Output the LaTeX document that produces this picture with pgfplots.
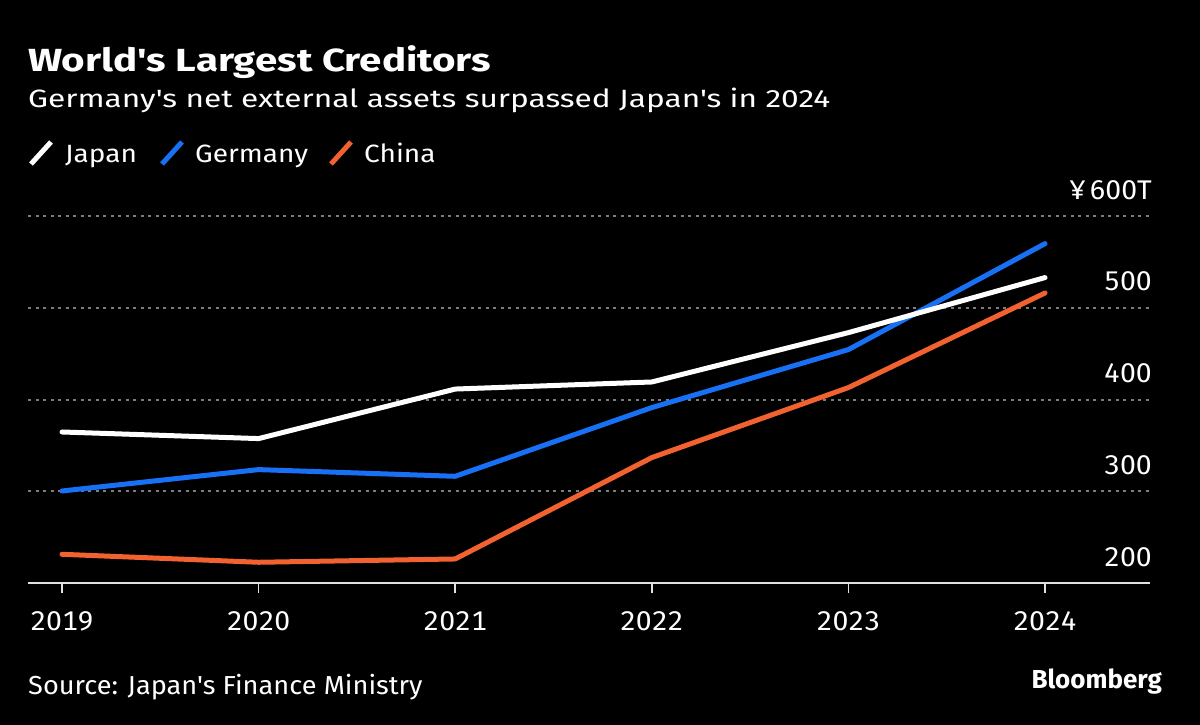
\documentclass[border=0pt]{standalone}
\usepackage{fontspec}
\setmainfont{Fira Sans}[Ligatures=TeXOff, Numbers=Monospaced]
\newfontfamily\titlefont{Fira Sans}[Ligatures=TeXOff, FakeStretch=1.26]
\newfontfamily\subfont{Fira Sans}[Ligatures=TeXOff, FakeStretch=1.265]
\newfontfamily\legfont{Fira Sans}[Ligatures=TeXOff, FakeStretch=1.12]
\newfontfamily\tickfont{Fira Sans}[Ligatures=TeXOff, Numbers=Monospaced, FakeStretch=1.05]
\newfontfamily\srcfont{Fira Sans}[Ligatures=TeXOff, FakeStretch=1.045]
\usepackage{pgfplots}
\pgfplotsset{compat=1.18}
\definecolor{jp}{RGB}{255,255,255}
\definecolor{de}{RGB}{24,112,245}
\definecolor{cn}{RGB}{242,98,48}
\definecolor{gridc}{RGB}{125,125,125}
\definecolor{basec}{RGB}{225,225,225}
\begin{document}
\begin{tikzpicture}
\fill[black] (0,0) rectangle (1200bp,-725bp);
\node[anchor=base west, inner sep=0pt, text=white, font=\titlefont\fontsize{32bp}{36bp}\selectfont\bfseries] at (28bp,-71bp) {World's Largest Creditors};
\node[anchor=base west, inner sep=0pt, text=white, font=\subfont\fontsize{25bp}{28bp}\selectfont] at (28bp,-107bp) {Germany's net external assets surpassed Japan's in 2024};
% legend
\draw[jp, line width=5bp] (31bp,-164bp) -- (51bp,-142bp);
\node[anchor=base west, inner sep=0pt, text=white, font=\legfont\fontsize{25bp}{28bp}\selectfont] at (65bp,-162bp) {Japan};
\draw[de, line width=5bp] (162bp,-164bp) -- (182bp,-142bp);
\node[anchor=base west, inner sep=0pt, text=white, font=\legfont\fontsize{25bp}{28bp}\selectfont] at (195bp,-162bp) {Germany};
\draw[cn, line width=5bp] (331bp,-164bp) -- (351bp,-142bp);
\node[anchor=base west, inner sep=0pt, text=white, font=\legfont\fontsize{25bp}{28bp}\selectfont] at (364bp,-162bp) {China};
\begin{axis}[at={(28bp,-583bp)}, anchor=south west, scale only axis,
  width=1122bp, height=367bp,
  xmin=2018.827, xmax=2024.534, ymin=200, ymax=600,
  axis x line*=bottom, axis y line*=right,
  x axis line style={draw=basec, line width=1.5bp, -},
  y axis line style={draw=none},
  xtick={2019,2020,2021,2022,2023,2024},
  xticklabels={2019,2020,2021,2022,2023,2024},
  ytick={200,300,400,500,600},
  yticklabels={200,300,400,500,{¥\hspace{4bp}600T\hspace{-16bp}}},
  xtick style={draw=basec, line width=1.5bp},
  ytick style={draw=none},
  tick align=outside, major tick length=10bp,
  ymajorgrids, grid style={draw=gridc, line width=2bp, dash pattern=on 3bp off 4.5bp},
  ticklabel style={text=white, font=\tickfont\fontsize{27bp}{30bp}\selectfont},
  /pgf/number format/assume math mode=true,
  yticklabel style={anchor=base east, inner sep=0pt, yshift=17bp, xshift=-8bp},
  xticklabel style={anchor=base, inner sep=0pt, yshift=-37bp},
  clip=false,
]
\addplot[cn, line width=5bp, line join=round, line cap=round] coordinates {(2019,231.3)(2020,222.6)(2021,226.2)(2022,336.7)(2023,413)(2024,516.1)};
\addplot[de, line width=5bp, line join=round, line cap=round] coordinates {(2019,300.3)(2020,323.6)(2021,316.3)(2022,391.2)(2023,454.4)(2024,569.9)};
\addplot[jp, line width=5bp, line join=round, line cap=round] coordinates {(2019,364.6)(2020,357.4)(2021,411.4)(2022,419.1)(2023,472.9)(2024,532.9)};
\end{axis}
\node[anchor=base west, inner sep=0pt, text=white, font=\srcfont\fontsize{26bp}{28bp}\selectfont] at (28bp,-694bp) {Source: Japan's Finance Ministry};
\node[anchor=base east, inner sep=0pt, text=white, font=\fontsize{26bp}{28bp}\selectfont\bfseries] at (1162bp,-688bp) {Bloomberg};
\pgfresetboundingbox
\path[use as bounding box] (0,0) rectangle (1200bp,-725bp);
\end{tikzpicture}
\end{document}
